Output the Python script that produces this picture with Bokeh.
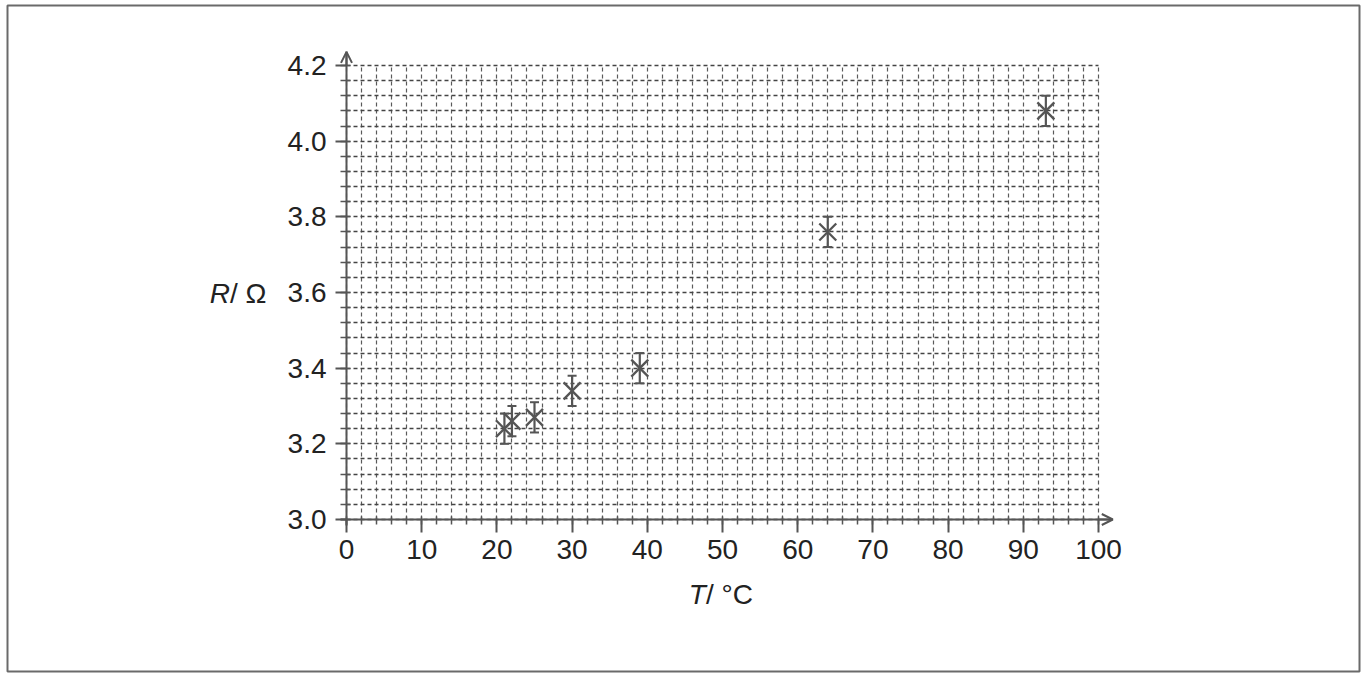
from bokeh.plotting import figure
from bokeh.models import (ColumnDataSource, FixedTicker, Whisker, TeeHead, Arrow,
                          OpenHead, Label, Range1d, Grid, NumeralTickFormatter,
                          BoxAnnotation)
from bokeh.embed import file_html
from bokeh.resources import INLINE

# ---- data ----
T_values = [21, 22, 25, 30, 39, 64, 93]                  # temperature / °C
R_values = [3.24, 3.26, 3.27, 3.34, 3.40, 3.76, 4.08]    # resistance / Ω
R_error = [0.04, 0.04, 0.04, 0.04, 0.04, 0.04, 0.04]

x_major_ticks = [0, 10, 20, 30, 40, 50, 60, 70, 80, 90, 100]
x_minor_ticks = [i * 2 for i in range(51)]
y_major_ticks = [3.0, 3.2, 3.4, 3.6, 3.8, 4.0, 4.2]
y_minor_ticks = [round(3.0 + i * 0.04, 2) for i in range(31)]

x_label_main, x_label_unit = "T", "/ °C"
y_label_main, y_label_unit = "R", "/ Ω"

FONT = "Liberation Sans"
INK = "#555555"
TEXT = "#222222"

W, H = 1365, 675
# pixel scale of the reference graph paper
PX_X = 7.52      # px per °C
PX_Y = 378.33    # px per Ω
X0_PX, Y0_PX = 346, 519   # where (0, 3.0) sits on the canvas

src = ColumnDataSource(dict(
    T=T_values, R=R_values,
    upper=[r + e for r, e in zip(R_values, R_error)],
    lower=[r - e for r, e in zip(R_values, R_error)],
))

x_range = Range1d(-X0_PX / PX_X, (W - X0_PX) / PX_X)
y_range = Range1d(3.0 - (H - Y0_PX) / PX_Y, 3.0 + Y0_PX / PX_Y)

p = figure(width=W, height=H, output_backend="svg", toolbar_location=None,
           x_range=x_range, y_range=y_range,
           min_border=0, outline_line_color=None,
           background_fill_color="white", border_fill_color="white")

# page frame
p.add_layout(BoxAnnotation(left=(7 - X0_PX) / PX_X, right=(1359 - X0_PX) / PX_X,
                           top=3.0 + (Y0_PX - 5) / PX_Y,
                           bottom=3.0 - (671 - Y0_PX) / PX_Y,
                           fill_color=None, fill_alpha=0,
                           line_color="#6a6a6a", line_alpha=1.0, line_width=2))

# graph-paper grid
p.xgrid.visible = False
p.ygrid.visible = False
p.add_layout(Grid(dimension=0, ticker=FixedTicker(ticks=x_minor_ticks),
                  grid_line_color="#5a5a5a", grid_line_width=1.2,
                  grid_line_dash="4 3", bounds=(0, 100), cross_bounds=(3.0, 4.2)))
p.add_layout(Grid(dimension=1, ticker=FixedTicker(ticks=y_minor_ticks),
                  grid_line_color="#444444", grid_line_width=1.4,
                  grid_line_dash="4 3", bounds=(3.0, 4.2), cross_bounds=(0, 100)))

# axes, fixed at the origin of the graph
for ax in (p.xaxis[0], p.yaxis[0]):
    ax.axis_line_color = INK
    ax.axis_line_width = 2
    ax.major_tick_line_color = INK
    ax.major_tick_line_width = 2
    ax.minor_tick_line_color = INK
    ax.minor_tick_line_width = 1.5
    ax.major_label_text_font = FONT
    ax.major_label_text_font_size = "28px"
    ax.major_label_text_color = TEXT

p.xaxis.fixed_location = 3.0
p.xaxis.bounds = (-0.8, 101.9)
p.xaxis.ticker = FixedTicker(ticks=x_major_ticks, minor_ticks=x_minor_ticks)
p.xaxis.major_tick_in = 0
p.xaxis.major_tick_out = 13
p.xaxis.minor_tick_in = 3
p.xaxis.minor_tick_out = 5
p.xaxis.major_label_standoff = 7

p.yaxis.fixed_location = 0
p.yaxis.bounds = (2.985, 4.236)
p.yaxis.ticker = FixedTicker(ticks=y_major_ticks, minor_ticks=y_minor_ticks)
p.yaxis.formatter = NumeralTickFormatter(format="0.0")
p.yaxis.major_tick_in = 0
p.yaxis.major_tick_out = 11
p.yaxis.minor_tick_in = 4
p.yaxis.minor_tick_out = 6
p.yaxis.major_label_standoff = 9

# axis arrow heads
p.add_layout(Arrow(end=OpenHead(size=11, line_color=INK, line_width=2),
                   x_start=0, y_start=4.2, x_end=0, y_end=4.236,
                   line_color=INK, line_width=2))
p.add_layout(Arrow(end=OpenHead(size=11, line_color=INK, line_width=2),
                   x_start=100, y_start=3.0, x_end=101.9, y_end=3.0,
                   line_color=INK, line_width=2))

# error bars and markers
p.add_layout(Whisker(source=src, base="T", upper="upper", lower="lower",
                     dimension="height", line_color=INK, line_width=2.2,
                     upper_head=TeeHead(size=9, line_color=INK, line_width=2),
                     lower_head=TeeHead(size=9, line_color=INK, line_width=2)))
p.scatter("T", "R", source=src, marker="x", size=24, line_color=INK,
          line_width=2.3)

# axis titles
p.add_layout(Label(x=-15.5, y=3.597, text=y_label_main, text_align="right",
                   text_baseline="middle", text_font=FONT,
                   text_font_size="28px", text_font_style="italic",
                   text_color=TEXT))
p.add_layout(Label(x=-15.5, y=3.597, text=" " + y_label_unit, text_align="left",
                   text_baseline="middle", text_font=FONT,
                   text_font_size="28px", text_color=TEXT))
p.add_layout(Label(x=47.8, y=2.802, text=x_label_main, text_align="right",
                   text_baseline="middle", text_font=FONT,
                   text_font_size="28px", text_font_style="italic",
                   text_color=TEXT))
p.add_layout(Label(x=47.8, y=2.802, text=x_label_unit, text_align="left",
                   text_baseline="middle", text_font=FONT,
                   text_font_size="28px", text_color=TEXT))

open("out.html", "w").write(file_html(p, INLINE))
